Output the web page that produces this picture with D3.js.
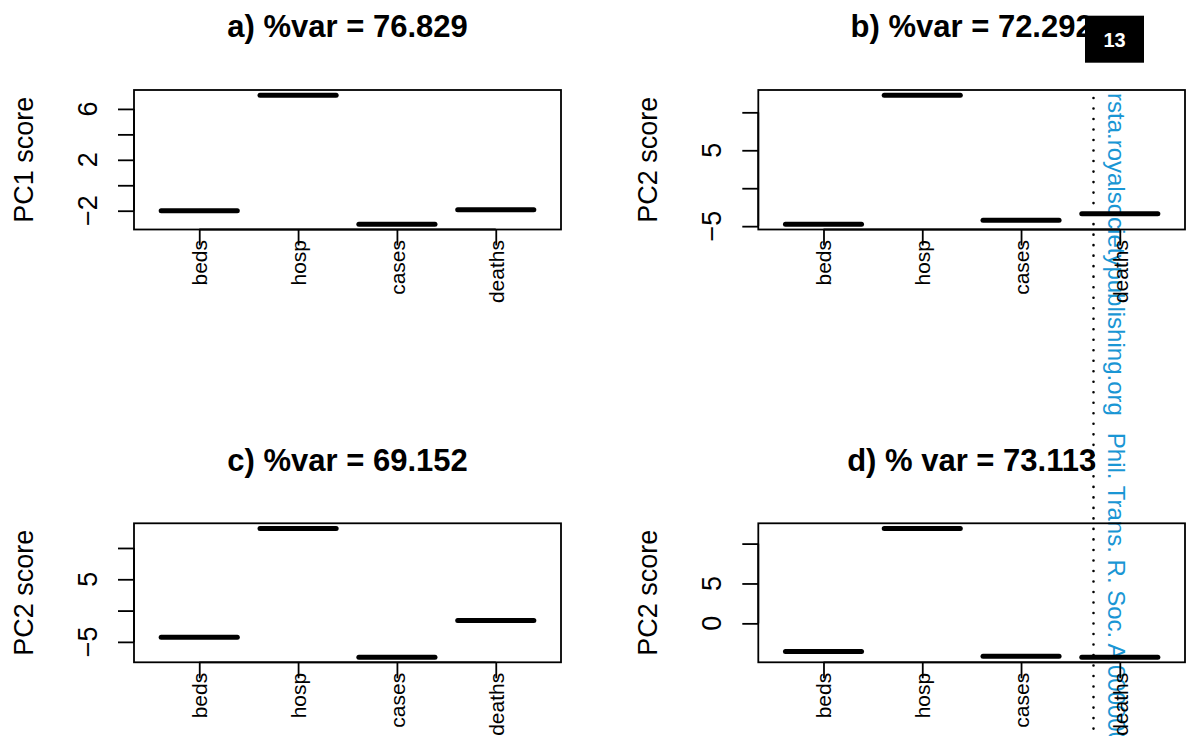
<!DOCTYPE html>
<html><head><meta charset="utf-8">
<script src="https://cdn.jsdelivr.net/npm/d3@7"></script>
<style>html,body{margin:0;padding:0;background:#fff;} svg{display:block;font-family:"Liberation Sans",Arial,Helvetica,sans-serif;}</style>
</head><body>
<script>
const categories = ["beds","hosp","cases","deaths"];
const valuesA = [-2.0, 7.08, -3.07, -1.92];
const valuesB = [-4.76, 12.26, -4.21, -3.37];
const valuesC = [-4.28, 13.12, -7.44, -1.6];
const valuesD = [-3.53, 11.9, -4.13, -4.24];
const titles = ["a) %var = 76.829", "b) %var = 72.292", "c) %var = 69.152", "d) % var = 73.113"];
const yLabels = ["PC1 score", "PC2 score", "PC2 score", "PC2 score"];
const ticksA = [-2, 0, 2, 4, 6], labelsA = [-2, 2, 6];
const ticksB = [-5, 0, 5, 10], labelsB = [-5, 5];
const ticksC = [-5, 0, 5, 10], labelsC = [-5, 5];
const ticksD = [0, 5, 10], labelsD = [0, 5];
const pageNumber = "13";
const marginText1 = "rsta.royalsocietypublishing.org";
const marginText2 = "Phil. Trans. R. Soc. A 0000000";

const W = 1192, H = 736;
const svg = d3.select("body").append("svg").attr("width", W).attr("height", H);

// margin decoration (dotted rule + journal text)
svg.append("line").attr("x1", 1093.5).attr("x2", 1093.5).attr("y1", 98).attr("y2", H)
  .attr("stroke", "#000").attr("stroke-width", 2.6).attr("stroke-linecap", "round")
  .attr("stroke-dasharray", "0.01,10.5");
const mt = svg.append("text").attr("transform", "translate(1108,93) rotate(90)")
  .attr("fill", "#1a96d4").attr("font-size", 24);
mt.append("tspan").text(marginText1);
mt.append("tspan").attr("dx", 17).text(marginText2);

const panels = [
  {vals: valuesA, ticks: ticksA, labels: labelsA, x0: 134, x1: 561, y0: 90, y1: 229.5},
  {vals: valuesB, ticks: ticksB, labels: labelsB, x0: 758.3, x1: 1185, y0: 90, y1: 229.5},
  {vals: valuesC, ticks: ticksC, labels: labelsC, x0: 134, x1: 561, y0: 523.3, y1: 662.3},
  {vals: valuesD, ticks: ticksD, labels: labelsD, x0: 758.3, x1: 1185, y0: 523.3, y1: 662.3}
];

const fmt = v => (v < 0 ? "\u2212" + Math.abs(v) : String(v));

panels.forEach((p, i) => {
  const g = svg.append("g");
  const [lo, hi] = d3.extent(p.vals);
  const pad = (hi - lo) * 0.04;
  const y = d3.scaleLinear().domain([lo - pad, hi + pad]).range([p.y1, p.y0]);
  const xpad = (4.5 - 0.5) * 0.04;
  const x = d3.scaleLinear().domain([0.5 - xpad, 4.5 + xpad]).range([p.x0, p.x1]);

  // medians (degenerate boxes)
  g.selectAll("line.med").data(p.vals).join("line").attr("class", "med")
    .attr("x1", (d, j) => x(j + 1 - 0.385)).attr("x2", (d, j) => x(j + 1 + 0.385))
    .attr("y1", d => y(d)).attr("y2", d => y(d))
    .attr("stroke", "#000").attr("stroke-width", 5).attr("stroke-linecap", "round");

  // box
  g.append("rect").attr("x", p.x0).attr("y", p.y0).attr("width", p.x1 - p.x0).attr("height", p.y1 - p.y0)
    .attr("fill", "none").attr("stroke", "#000").attr("stroke-width", 1.8);

  // y axis
  const yAxis = d3.axisLeft(y).tickValues(p.ticks).tickSize(16).tickFormat("");
  const ya = g.append("g").attr("transform", `translate(${p.x0},0)`).call(yAxis);
  ya.select(".domain").attr("d", `M0,${y(p.ticks[0])}V${y(p.ticks[p.ticks.length - 1])}`)
    .attr("stroke-width", 1.8);
  ya.selectAll(".tick line").attr("stroke-width", 1.8);
  g.selectAll("text.ytl").data(p.labels).join("text").attr("class", "ytl")
    .attr("transform", d => `translate(${p.x0 - 37},${y(d)}) rotate(-90)`)
    .attr("text-anchor", "middle").attr("font-size", 27).text(fmt);

  // x axis
  const xAxis = d3.axisBottom(x).tickValues([1, 2, 3, 4]).tickSize(16).tickFormat("");
  const xa = g.append("g").attr("transform", `translate(0,${p.y1})`).call(xAxis);
  xa.select(".domain").attr("d", `M${x(1)},0H${x(4)}`).attr("stroke-width", 1.8);
  xa.selectAll(".tick line").attr("stroke-width", 1.8);
  g.selectAll("text.xtl").data(categories).join("text").attr("class", "xtl")
    .attr("transform", (d, j) => `translate(${x(j + 1) + 8},${p.y1 + 10.5}) rotate(-90)`)
    .attr("text-anchor", "end").attr("font-size", 21).text(d => d);

  // y label
  g.append("text").attr("transform", `translate(${p.x0 - 101},${(p.y0 + p.y1) / 2}) rotate(-90)`)
    .attr("text-anchor", "middle").attr("font-size", 27).text(yLabels[i]);

  // title
  g.append("text").attr("x", (p.x0 + p.x1) / 2).attr("y", p.y0 - 52.7)
    .attr("text-anchor", "middle").attr("font-size", 31).attr("font-weight", "bold").text(titles[i]);
});

// page number box
svg.append("rect").attr("x", 1085).attr("y", 15.7).attr("width", 59).attr("height", 47).attr("fill", "#000");
svg.append("text").attr("x", 1114.5).attr("y", 47).attr("text-anchor", "middle")
  .attr("font-size", 20).attr("font-weight", "bold").attr("fill", "#fff").text(pageNumber);
</script>
</body></html>
